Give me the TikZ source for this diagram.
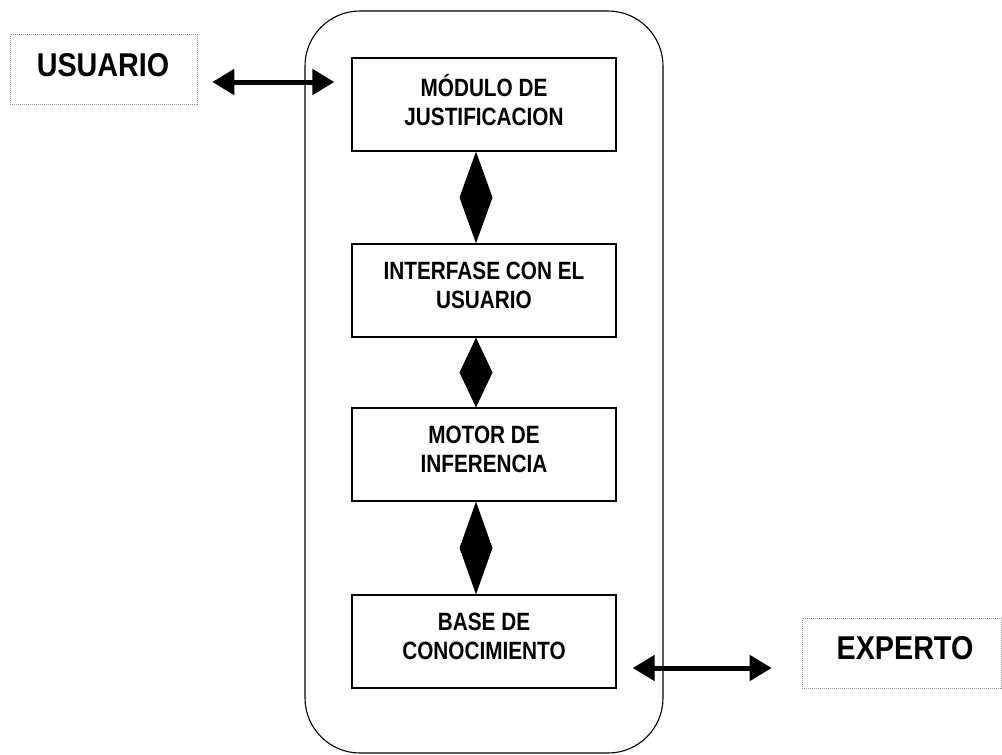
\documentclass[tikz,border=0pt]{standalone}
\usepackage{fontspec}
\setmainfont{Liberation Sans}
\newfontfamily\boxfont{Liberation Sans}[FakeStretch=0.83]
\newfontfamily\extfont{Liberation Sans}[FakeStretch=0.87]
\usetikzlibrary{arrows.meta,calc}
\begin{document}
\begin{tikzpicture}[x=1pt,y=-1pt,
  sysbox/.style={draw, line width=1.1pt, rounded corners=55pt, minimum width=358pt, minimum height=742pt, inner sep=0pt},
  modbox/.style={draw, line width=1.3pt, minimum width=264pt, minimum height=93pt, inner sep=0pt, align=center,
     font=\boxfont\bfseries\fontsize{25}{29}\selectfont,
     execute at begin node={\rule{0pt}{24pt}}, execute at end node={\rule[-10pt]{0pt}{10pt}}},
  extbox/.style={draw=gray!80, dash pattern=on 1.2pt off 0.8pt, line width=0.6pt, inner sep=0pt},
  extlabel/.style={font=\extfont\bfseries\fontsize{33}{38}\selectfont, inner sep=0pt},
  biarrow/.style={line width=5pt, {Triangle[length=22pt,width=25pt]}-{Triangle[length=22pt,width=25pt]}},
  rombo/.style={fill=black}
]
\useasboundingbox (0,0) rectangle (1002,755);
\node[sysbox] (sys) at (484,382) {};
\node[modbox] (b1) at (484,104.5) {MÓDULO DE\\JUSTIFICACION};
\node[modbox] (b2) at (484,290.5) {INTERFASE CON EL\\USUARIO};
\node[modbox] (b3) at (484,454.5) {MOTOR DE\\INFERENCIA};
\node[modbox] (b4) at (484,641.5) {BASE DE\\CONOCIMIENTO};
\node[extbox, minimum width=187pt, minimum height=70pt] (usr) at (103.5,69) {};
\node[extlabel] (usrtxt) at (103,65) {USUARIO};
\node[extbox, minimum width=199pt, minimum height=70pt] (exp) at (901.5,653) {};
\node[extlabel] (exptxt) at (905,648.3) {EXPERTO};
% diamonds between modules
\foreach \a/\b in {b1/b2,b2/b3,b3/b4}{
  \fill[rombo] ([xshift=-8pt]\a.south) -- ($([xshift=-8pt]\a.south)!0.5!([xshift=-8pt]\b.north)+(16.5,0)$)
     -- ([xshift=-8pt]\b.north) -- ($([xshift=-8pt]\a.south)!0.5!([xshift=-8pt]\b.north)+(-16.5,0)$) -- cycle;
}
\draw[biarrow] ($(usr.east)+(15,13)$) -- ($(b1.west)+(-17,-22.5)$);
\draw[biarrow] ($(b4.east)+(16,26.5)$) -- ($(exp.west)+(-30,15)$);
\end{tikzpicture}
\end{document}
